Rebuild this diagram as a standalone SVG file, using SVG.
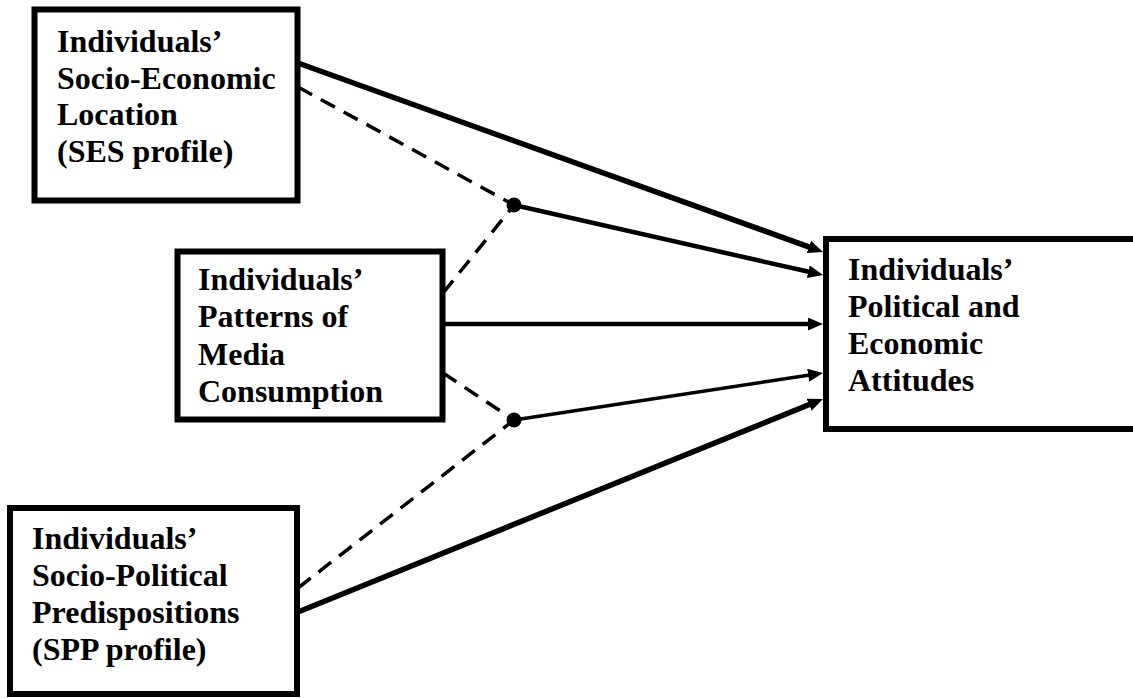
<svg xmlns="http://www.w3.org/2000/svg" width="1133" height="698" viewBox="0 0 1133 698">
<style>
.box{fill:#fff;stroke:#000;stroke-width:6}
.lbl{font-family:"Liberation Serif","Times New Roman",serif;font-weight:bold;font-size:32px;fill:#000}
.solid{fill:none;stroke:#000}
.dash{fill:none;stroke:#000;stroke-width:3.5;stroke-dasharray:16 10}
.dot{fill:#000}
</style>
<defs>
<marker id="arr" markerUnits="userSpaceOnUse" markerWidth="17" markerHeight="14" refX="5" refY="6.5" orient="auto">
<path d="M0,0 L15,6.5 L0,13 z" fill="#000"/>
</marker>
</defs>
<rect width="1133" height="698" fill="#fff"/>
<g id="connectors">
<path class="solid" stroke-width="5.5" d="M298,63 L813.6,248.6" marker-end="url(#arr)"/>
<path class="dash" d="M298,87 L514,205"/>
<path class="solid" stroke-width="4.5" d="M514,205 L813.2,272.8" marker-end="url(#arr)"/>
<path class="dash" d="M443,293 L514,205"/>
<path class="solid" stroke-width="4.5" d="M443,324 L813,324" marker-end="url(#arr)"/>
<path class="dash" d="M443,373 L514,420"/>
<path class="solid" stroke-width="3.5" d="M514,420 L813.1,374.5" marker-end="url(#arr)"/>
<path class="dash" d="M298,588 L514,420"/>
<path class="solid" stroke-width="5.5" d="M298,612 L813.7,402.8" marker-end="url(#arr)"/>
<circle class="dot" cx="514" cy="205" r="7.5"/>
<circle class="dot" cx="514" cy="420" r="7.5"/>
</g>
<g id="ses">
<rect class="box" x="34.5" y="9.5" width="263" height="191"/>
<text class="lbl" x="57" y="52">Individuals’</text>
<text class="lbl" x="57" y="88.5">Socio-Economic</text>
<text class="lbl" x="57" y="125">Location</text>
<text class="lbl" x="57" y="161.5">(SES profile)</text>
</g>
<g id="media">
<rect class="box" x="177.5" y="251.5" width="265" height="168"/>
<text class="lbl" x="198" y="290">Individuals’</text>
<text class="lbl" x="198" y="327">Patterns of</text>
<text class="lbl" x="198" y="364.5">Media</text>
<text class="lbl" x="198" y="402">Consumption</text>
</g>
<g id="spp">
<rect class="box" x="10" y="508" width="287" height="186"/>
<text class="lbl" x="32" y="549">Individuals’</text>
<text class="lbl" x="32" y="586">Socio-Political</text>
<text class="lbl" x="32" y="623">Predispositions</text>
<text class="lbl" x="32" y="660">(SPP profile)</text>
</g>
<g id="attitudes">
<rect class="box" x="826" y="239" width="400" height="190"/>
<text class="lbl" x="848" y="280">Individuals’</text>
<text class="lbl" x="848" y="317">Political and</text>
<text class="lbl" x="848" y="354">Economic</text>
<text class="lbl" x="848" y="391">Attitudes</text>
</g>
</svg>
